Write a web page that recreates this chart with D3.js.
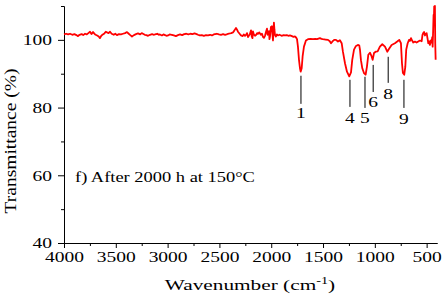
<!DOCTYPE html>
<html>
<head>
<meta charset="utf-8">
<script src="https://cdn.jsdelivr.net/npm/d3@7"></script>
<style>
  body { margin: 0; background: #fff; }
  text { font-family: "Liberation Serif", "Times New Roman", serif; fill: #000; }
</style>
</head>
<body>
<svg id="chart" width="442" height="299"></svg>
<script>
// spectrum (wavenumber cm-1, transmittance %)
const wavenumbers = [4000,3980,3960,3942,3920,3900,3880,3865,3850,3830,3815,3797,3780,3765,3749,3735,3720,3700,3680,3665,3653,3640,3625,3610,3597,3585,3570,3556,3540,3520,3505,3489,3470,3450,3431,3410,3392,3375,3360,3344,3325,3305,3286,3265,3250,3238,3220,3205,3189,3170,3150,3135,3122,3100,3085,3074,3055,3040,3025,3010,2996,2980,2960,2940,2920,2900,2880,2860,2840,2820,2800,2780,2760,2740,2720,2707,2690,2670,2650,2630,2610,2590,2572,2555,2543,2525,2505,2485,2465,2445,2430,2417,2400,2385,2369,2355,2340,2330,2321,2305,2292,2275,2265,2253,2240,2234,2224,2212,2205,2195,2188,2181,2176,2168,2157,2145,2135,2128,2115,2100,2089,2080,2070,2060,2050,2041,2035,2022,2017,2012,2003,1993,1988,1983,1978,1974,1969,1964,1955,1945,1935,1920,1900,1880,1867,1850,1835,1819,1800,1785,1771,1760,1751,1742,1732,1722,1716,1706,1697,1684,1665,1645,1620,1597,1575,1558,1530,1515,1501,1475,1452,1435,1423,1404,1390,1375,1356,1337,1320,1308,1288,1269,1247,1230,1218,1201,1182,1160,1150,1143,1134,1121,1105,1089,1076,1063,1047,1031,1021,1008,992,973,951,928,902,880,864,838,806,784,764,748,738,729,716,706,697,683,670,661,651,640,629,613,597,581,565,548,540,533,525,516,508,500,492,484,476,468,460,452,446,442,437,433,430,427,424,420,417,413];
const transmittance = [101.6,101.8,101.6,101.8,101.5,101.7,101.4,101.1,101.5,101.7,101.4,101.8,101.6,102.0,102.4,101.7,102.3,101.6,101.3,101.0,100.5,101.2,101.6,101.9,102.4,102.2,102.0,102.4,101.8,101.5,101.8,101.4,101.7,101.6,101.8,102.0,102.3,101.8,101.4,101.0,101.4,101.7,101.9,101.6,102.0,101.8,101.5,101.4,101.2,101.5,101.7,101.5,101.6,101.8,101.5,101.6,101.3,101.6,101.4,101.2,101.3,101.6,101.5,101.3,101.1,101.4,101.6,101.4,101.7,101.8,101.6,101.8,101.7,101.9,101.7,101.5,101.3,101.4,101.2,101.4,101.3,101.5,101.3,101.6,101.7,101.8,101.6,101.5,101.7,101.5,101.6,101.8,101.9,102.0,102.2,102.8,103.5,103.0,102.4,101.8,101.3,101.1,101.6,101.2,101.6,102.0,100.8,101.4,101.8,102.8,101.0,100.5,102.5,101.6,101.2,101.5,102.0,101.8,102.2,101.5,101.8,100.9,100.6,101.2,102.4,103.3,101.5,102.6,100.2,101.0,103.8,104.0,101.5,99.8,102.5,105.1,103.0,101.5,101.0,101.6,101.3,101.5,101.2,101.4,101.3,101.4,101.2,101.3,101.1,100.9,101.0,100.7,100.2,98.0,94.1,91.5,90.6,91.6,95.1,98.0,99.8,100.2,100.3,100.2,100.3,100.2,100.5,100.3,100.2,100.1,100.0,99.6,99.0,99.7,100.0,100.0,99.5,99.9,99.0,96.5,93.1,90.6,89.2,90.4,94.1,97.1,98.2,98.5,98.3,97.0,94.0,91.6,90.2,89.7,92.1,95.6,96.2,95.1,94.1,96.1,96.5,96.6,98.0,98.7,98.0,96.5,97.3,98.5,99.0,99.5,100.0,99.0,93.1,90.2,89.7,92.0,97.1,99.0,100.0,99.7,100.5,99.8,99.2,99.5,99.2,99.5,99.8,99.6,101.5,102.0,102.3,101.3,101.8,102.0,100.5,99.0,99.6,98.5,99.8,99.2,100.8,98.0,103.0,107.4,106.0,109.9,108.0,110.0,99.0,94.1];

// band labels: text, wavenumber, line top / bottom and label baseline (in %)
const bandNames = ["1", "4", "5", "6", "8", "9"];
const bandWn = [1713, 1240, 1095, 1016, 871, 719];
const bandTop = [89.4, 88.2, 89.1, 92.6, 95.0, 88.2];
const bandBottom = [81.1, 80.2, 79.9, 84.6, 87.3, 79.9];
const bandText = [76.9, 75.5, 75.5, 80.1, 82.5, 75.2];

const xMajor = [4000, 3500, 3000, 2500, 2000, 1500, 1000, 500];
const xMinor = [3750, 3250, 2750, 2250, 1750, 1250, 750];
const yMajor = [40, 60, 80, 100];
const yMinor = [50, 70, 90, 110];

const svg = d3.select("#chart");
const k = 1.3; // the picture's text is stretched horizontally

const x = d3.scaleLinear().domain([4000, 400]).range([64, 437]);
const y = d3.scaleLinear().domain([40, 110]).range([243, 6]);

// minor ticks
svg.append("g").attr("transform", "translate(0,243)")
  .call(d3.axisBottom(x).tickValues(xMinor).tickSize(3).tickSizeOuter(0).tickFormat(""));
svg.append("g").attr("transform", "translate(64,0)")
  .call(d3.axisLeft(y).tickValues(yMinor).tickSize(3).tickSizeOuter(0).tickFormat(""));

const xAxis = svg.append("g").attr("transform", "translate(0,243)")
  .call(d3.axisBottom(x).tickValues(xMajor).tickSize(5).tickSizeOuter(0).tickFormat(d3.format("d")));
xAxis.selectAll("text")
  .style("font-size", "15px")
  .attr("transform", "scale(" + k + ",1)");

const yAxis = svg.append("g").attr("transform", "translate(64,0)")
  .call(d3.axisLeft(y).tickValues(yMajor).tickSize(6).tickSizeOuter(0).tickFormat(d3.format("d")));
yAxis.selectAll("text")
  .style("font-size", "15px")
  .attr("x", -12 / k)
  .attr("transform", "scale(" + k + ",1)");

svg.selectAll(".domain, .tick line").attr("stroke", "#000");
svg.selectAll(".tick text").attr("fill", "#000");
svg.selectAll("g").attr("font-family", null);

// spectrum
const pts = wavenumbers.map((w, i) => [w, transmittance[i]]);
svg.append("path")
  .datum(pts)
  .attr("fill", "none")
  .attr("stroke", "#ff0000")
  .attr("stroke-width", 1.8)
  .attr("stroke-linejoin", "round")
  .attr("d", d3.line().x(d => x(d[0])).y(d => y(d[1])));

// band markers
const bands = bandNames.map((n, i) => ({n: n, w: bandWn[i], t: bandTop[i], b: bandBottom[i], ty: bandText[i]}));
svg.append("g").selectAll("line")
  .data(bands)
  .enter()
  .append("line")
  .attr("x1", d => x(d.w)).attr("x2", d => x(d.w))
  .attr("y1", d => y(d.t)).attr("y2", d => y(d.b))
  .attr("stroke", "#000").attr("stroke-width", 1);
svg.append("g").selectAll("text")
  .data(bands)
  .enter()
  .append("text")
  .attr("text-anchor", "middle")
  .style("font-size", "15px")
  .attr("transform", d => "translate(" + x(d.w) + "," + y(d.ty) + ") scale(" + k + ",1)")
  .text(d => d.n);

// sample note
svg.append("text")
  .style("font-size", "15px")
  .attr("transform", "translate(75,182) scale(1.23,1)")
  .text("f) After 2000 h at 150°C");

// axis titles
const xt = svg.append("text")
  .attr("text-anchor", "middle")
  .style("font-size", "15px")
  .attr("transform", "translate(250,290) scale(1.42,1)");
xt.append("tspan").text("Wavenumber (cm");
xt.append("tspan").attr("dy", -6).style("font-size", "10px").text("-1");
xt.append("tspan").attr("dy", 6).text(")");

svg.append("text")
  .attr("text-anchor", "middle")
  .style("font-size", "16px")
  .attr("transform", "translate(16,141) rotate(-90) scale(1.22,1)")
  .text("Transmittance (%)");
</script>
</body>
</html>
